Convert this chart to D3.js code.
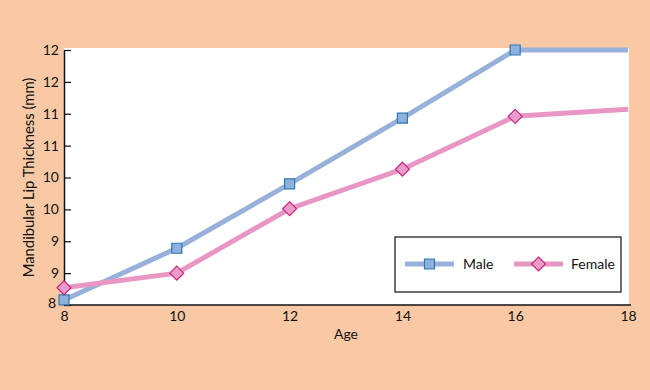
<!DOCTYPE html>
<html>
<head>
<meta charset="utf-8">
<script src="https://cdn.jsdelivr.net/npm/d3@7"></script>
<style>
  body { margin: 0; background: #f9c9a6; }
  svg { display: block; }
  text { font-family: Lato, "DejaVu Sans", sans-serif; fill: #111; }
</style>
</head>
<body>
<svg id="vis"></svg>
<script>
(function() {
  // data
  var ages = [8, 10, 12, 14, 16, 18];
  var maleValues = [8.08, 8.89, 9.9, 10.93, 12.0, 12.0];
  var femaleValues = [8.27, 8.5, 9.51, 10.13, 10.96, 11.07];
  var yTicks = [8, 8.5, 9, 9.5, 10, 10.5, 11, 11.5, 12];
  var seriesNames = ["Male", "Female"];

  var width = 650, height = 390;
  var margin = {left: 64, right: 22, top: 50, bottom: 85};

  var chart = d3.select("#vis")
    .attr("width", width)
    .attr("height", height);

  chart.append("rect")
    .attr("width", width).attr("height", height)
    .attr("fill", "#f9c9a6");

  var x = d3.scaleLinear().domain([8, 18]).range([margin.left, width - margin.right]);
  var y = d3.scaleLinear().domain([8, 12]).range([height - margin.bottom, margin.top]);

  // white plot area
  chart.append("rect")
    .attr("x", x(8)).attr("y", y(12) - 2)
    .attr("width", x(18) - x(8) + 1).attr("height", y(8) - y(12) + 2)
    .attr("fill", "#fff");

  // y axis, ticks pointing inwards
  var yAxis = chart.append("g")
    .attr("transform", "translate(" + x(8) + ",0)")
    .call(d3.axisLeft(y).tickValues(yTicks).tickSizeInner(-7).tickSizeOuter(0)
      .tickPadding(5).tickFormat(function(d) { return Math.round(d); }));
  yAxis.select(".domain").attr("stroke", "#111").attr("stroke-width", 1.5);
  yAxis.selectAll(".tick line").attr("stroke", "#111").attr("stroke-width", 1.2);
  yAxis.selectAll("text").style("font-size", "14px")
    .attr("dx", function(d) { return d === 8 ? "-0.2em" : 0; })
    .attr("dy", function(d) { return d === 8 ? "0.15em" : "0.32em"; });

  // x axis, no visible ticks
  var xAxis = chart.append("g")
    .attr("transform", "translate(0," + y(8) + ")")
    .call(d3.axisBottom(x).tickValues(ages).tickSize(0).tickPadding(6));
  xAxis.select(".domain").attr("stroke", "#111").attr("stroke-width", 1.5)
    .attr("d", "M" + x(8) + ",0H" + (x(18) + 3));
  xAxis.selectAll("text").style("font-size", "14px");

  chart.append("text")
    .attr("x", (x(8) + x(18)) / 2)
    .attr("y", 339)
    .attr("text-anchor", "middle")
    .style("font-size", "14px")
    .text("Age");

  chart.append("text")
    .attr("transform", "translate(34," + ((y(8) + y(12)) / 2) + ") rotate(-90)")
    .attr("text-anchor", "middle")
    .style("font-size", "14.8px")
    .text("Mandibular Lip Thickness (mm)");

  var series = [
    {name: seriesNames[0], values: maleValues, line: "#97b1da", fill: "#8db0dc", stroke: "#2f78b4", shape: "square"},
    {name: seriesNames[1], values: femaleValues, line: "#e897c5", fill: "#e99ccb", stroke: "#c62a7d", shape: "diamond"}
  ];

  var line = d3.line()
    .x(function(d) { return x(d.age); })
    .y(function(d) { return y(d.value); });

  function markerPath(shape) {
    if (shape === "square") return "M-5,-5H5V5H-5Z";
    return "M0,-7L7,0L0,7L-7,0Z";
  }

  series.forEach(function(s) {
    var pts = ages.map(function(a, i) { return {age: a, value: s.values[i]}; });
    chart.append("path")
      .attr("d", line(pts))
      .attr("fill", "none")
      .attr("stroke", s.line)
      .attr("stroke-width", 5);
    chart.selectAll(".m-" + s.shape)
      .data(pts.slice(0, 5))
      .enter()
      .append("path")
      .attr("class", "m-" + s.shape)
      .attr("transform", function(d) { return "translate(" + x(d.age) + "," + y(d.value) + ")"; })
      .attr("d", markerPath(s.shape))
      .attr("fill", s.fill)
      .attr("stroke", s.stroke)
      .attr("stroke-width", 1.2);
  });

  // legend
  var legend = chart.append("g");
  legend.append("rect")
    .attr("x", 395).attr("y", 237)
    .attr("width", 226).attr("height", 55)
    .attr("fill", "#fff").attr("stroke", "#111").attr("stroke-width", 1.2);

  var legendX = [405, 514];
  var textX = [463, 571];
  series.forEach(function(s, i) {
    legend.append("line")
      .attr("x1", legendX[i]).attr("x2", legendX[i] + 49)
      .attr("y1", 264).attr("y2", 264)
      .attr("stroke", s.line).attr("stroke-width", 5);
    legend.append("path")
      .attr("transform", "translate(" + (legendX[i] + 24.5) + ",264)")
      .attr("d", markerPath(s.shape))
      .attr("fill", s.fill).attr("stroke", s.stroke).attr("stroke-width", 1.2);
    legend.append("text")
      .attr("x", textX[i]).attr("y", 264)
      .attr("dy", "0.35em")
      .style("font-size", "14px")
      .text(s.name);
  });
}());
</script>
</body>
</html>
